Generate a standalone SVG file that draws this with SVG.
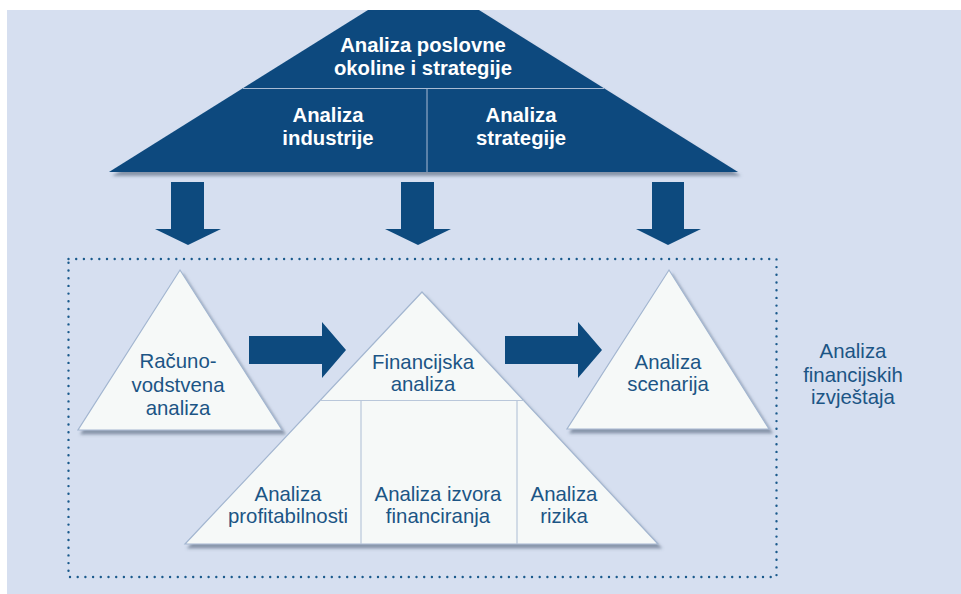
<svg xmlns="http://www.w3.org/2000/svg" width="961" height="594" viewBox="0 0 961 594">
<style>
.navy{fill:#0d4a7e}
.wt{font-family:"Liberation Sans",Arial,sans-serif;font-weight:bold;font-size:20.3px;fill:#ffffff;text-anchor:middle}
.bt{font-family:"Liberation Sans",Arial,sans-serif;font-size:20.4px;fill:#1c5585;text-anchor:middle}
.tri{fill:#f6f9f8;stroke:#a3b6d0;stroke-width:1.2;filter:url(#sh)}
.div{stroke:#b9c7da;stroke-width:1.2;fill:none}
.ddiv{stroke:#a9bbd4;stroke-width:1;fill:none}
</style>
<defs>
<filter id="sh" x="-10%" y="-10%" width="125%" height="130%">
<feDropShadow dx="3" dy="4" stdDeviation="1.8" flood-color="#4a5870" flood-opacity="0.55"/>
</filter>
</defs>
<rect x="0" y="0" width="961" height="594" fill="#ffffff"/>
<rect x="7" y="10" width="954" height="584" fill="#d6dff0"/>

<g id="top-node">
<polygon class="navy" points="368,10 479,10 738,172 109,172" filter="url(#sh)"/>
<line class="ddiv" x1="243" y1="88.5" x2="604" y2="88.5"/>
<line class="ddiv" x1="427" y1="88.5" x2="427" y2="172"/>
<text class="wt" x="423" y="52">Analiza poslovne</text>
<text class="wt" x="423" y="75">okoline i strategije</text>
<text class="wt" x="328" y="122">Analiza</text>
<text class="wt" x="328" y="145">industrije</text>
<text class="wt" x="521" y="122">Analiza</text>
<text class="wt" x="521" y="145">strategije</text>
</g>

<g id="frame">
<rect x="68.5" y="259" width="708" height="318" fill="none" stroke="#1a5a8c" stroke-width="2.4" stroke-linecap="round" stroke-dasharray="0 7.7"/>
</g>

<g id="racunovodstvena">
<polygon class="tri" points="180,270 282,430 78,430"/>
<text class="bt" x="178" y="368">Računo-</text>
<text class="bt" x="178" y="392">vodstvena</text>
<text class="bt" x="178" y="415">analiza</text>
</g>

<g id="financijska">
<polygon class="tri" points="422,292 658,544 185,544"/>
<line class="div" x1="320.5" y1="400.5" x2="523.5" y2="400.5"/>
<line class="div" x1="361" y1="400.5" x2="361" y2="544"/>
<line class="div" x1="517" y1="400.5" x2="517" y2="544"/>
<text class="bt" x="423" y="369">Financijska</text>
<text class="bt" x="423" y="391">analiza</text>
<text class="bt" x="288" y="501">Analiza</text>
<text class="bt" x="288" y="523">profitabilnosti</text>
<text class="bt" x="438" y="501">Analiza izvora</text>
<text class="bt" x="438" y="523">financiranja</text>
<text class="bt" x="564" y="501">Analiza</text>
<text class="bt" x="564" y="523">rizika</text>
</g>

<g id="scenarija">
<polygon class="tri" points="669,270 769,429 567,429"/>
<text class="bt" x="668" y="369">Analiza</text>
<text class="bt" x="668" y="391">scenarija</text>
</g>

<g id="label-fin-izvjestaja">
<text class="bt" x="853" y="358">Analiza</text>
<text class="bt" x="853" y="382">financijskih</text>
<text class="bt" x="853" y="404">izvještaja</text>
</g>

<g id="connectors" class="navy">
<polygon points="171,182 204,182 204,229 221,229 188,245 155,229 171,229"/>
<polygon points="401,182 434,182 434,229 451,229 418,245 385,229 401,229"/>
<polygon points="652,182 684,182 684,229 701,229 668,245 636,229 652,229"/>
<polygon points="249,336 322,336 322,322 346,350 322,378 322,364 249,364"/>
<polygon points="505,336 578,336 578,322 602,350 578,378 578,364 505,364"/>
</g>
</svg>
